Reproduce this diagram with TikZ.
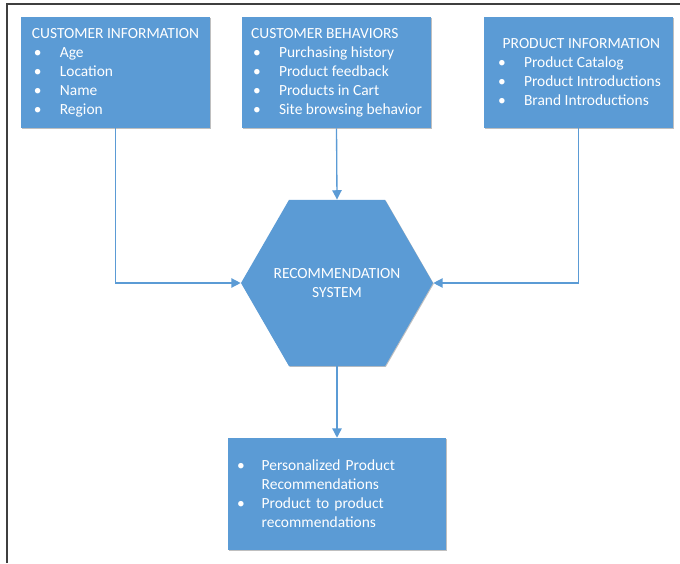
\documentclass[tikz,border=0pt]{standalone}
\usepackage{fontspec}
\setmainfont{Carlito}
\usepackage{xcolor}
\usepackage{tikz}
\usetikzlibrary{arrows.meta,shapes.geometric,shadows}
\definecolor{recblue}{HTML}{5B9BD5}
\definecolor{framegray}{HTML}{3F3F3F}
% bullet line: bullet box of given width, then the text
\newcommand{\li}[2][21pt]{\makebox[#1][l]{\hspace*{1.5pt}\textbullet}#2}

\begin{document}
\begin{tikzpicture}[x=0.75pt,y=-0.75pt,
    box/.style={fill=recblue, text=white, inner sep=0pt, align=left,
        minimum width=141.75pt, minimum height=83.25pt,
        font=\fontsize{11.6}{14.25}\selectfont,
        drop shadow={shadow xshift=0.6pt, shadow yshift=-0.6pt, opacity=0.25, fill=black}},
    hex/.style={regular polygon, regular polygon sides=6, minimum size=144pt,
        inner sep=0pt, fill=recblue, text=white, align=center,
        font=\fontsize{11.6}{14.25}\selectfont,
        drop shadow={shadow xshift=0.6pt, shadow yshift=-0.6pt, opacity=0.25, fill=black}},
    link/.style={draw=recblue, line width=1pt, -{Triangle[length=7pt,width=7pt]}}]
    \useasboundingbox (0,0) rectangle (680,563);
    \draw[framegray, line width=1.5pt] (6.5,563) -- (6.5,4.5) -- (680,4.5); % frame

    \node[box] (cinfo) at (115.5,72.5) {CUSTOMER INFORMATION\\
        \li{Age}\\ \li{Location}\\ \li{Name}\\ \li{Region}};
    \node[box] (cbeh) at (336.5,72.5) {CUSTOMER BEHAVIORS\\
        \li{Purchasing history}\\ \li{Product feedback}\\
        \li{Products in Cart}\\ \li{Site browsing behavior}};
    \node[box] (pinfo) at (578.5,72.5) {\hspace*{5pt}PRODUCT INFORMATION\\
        \li[21pt]{Product Catalog}\\ \li[21pt]{Product Introductions}\\
        \li[21pt]{Brand Introductions}\hspace*{3pt}};

    \node[hex] (rec) at (337,283)
        {\makebox[0pt]{RECOMMENDATION}\\ \makebox[0pt]{SYSTEM}};

    \node[box, minimum width=163.5pt, minimum height=84pt, text width=153pt,
        inner xsep=5.25pt] (recout) at (337,494)
        {\li[20pt]{Personalized Product}\\ \hspace*{20pt}Recommendations\\
        \li[20pt]{Product to product}\\ \hspace*{20pt}recommendations};

    \draw[link] (cinfo.south) |- (rec.west);
    \draw[link] (cbeh.south) -- (rec.north);
    \draw[link] (pinfo.south) |- (rec.east);
    \draw[link] (rec.south) -- (recout.north);
\end{tikzpicture}
\end{document}
